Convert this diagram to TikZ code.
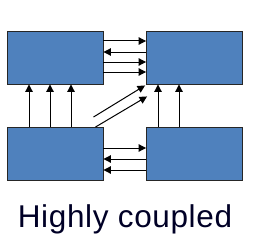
\documentclass[tikz,border=0pt]{standalone}
\usepackage{fontspec}
\setmainfont{Liberation Sans}[LetterSpace=2]
\usetikzlibrary{arrows.meta}
\definecolor{boxblue}{HTML}{4F81BD}
\tikzset{
  blk/.style={draw=black!85, line width=0.9pt, fill=boxblue, minimum width=96pt, minimum height=53pt, inner sep=0pt},
  arr/.style={line width=1pt, -{Triangle[length=7.5pt,width=7.5pt]}},
}
\begin{document}
\begin{tikzpicture}[x=1pt,y=-1pt]
\useasboundingbox (0,0) rectangle (259,246);
\node[blk] (tl) at (55,57.5) {};
\node[blk] (tr) at (194.5,57.5) {};
\node[blk] (bl) at (55,154) {};
\node[blk] (br) at (194.5,154) {};
% top horizontal
\draw[arr] ([yshift=16.5pt]tl.east) -- ([yshift=16.5pt]tr.west);
\draw[arr] ([yshift=5.5pt]tr.west) -- ([yshift=5.5pt]tl.east);
\draw[arr] ([yshift=-4.5pt]tl.east) -- ([yshift=-4.5pt]tr.west);
\draw[arr] ([yshift=-14.5pt]tl.east) -- ([yshift=-14.5pt]tr.west);
% bottom horizontal
\draw[arr] ([yshift=6pt]bl.east) -- ([yshift=6pt]br.west);
\draw[arr] ([yshift=-5pt]br.west) -- ([yshift=-5pt]bl.east);
\draw[arr] ([yshift=-16pt]br.west) -- ([yshift=-16pt]bl.east);
% vertical left
\draw[arr] ([xshift=-26pt]bl.north) -- ([xshift=-26pt]tl.south);
\draw[arr] ([xshift=-5pt]bl.north) -- ([xshift=-5pt]tl.south);
\draw[arr] ([xshift=16pt]bl.north) -- ([xshift=16pt]tl.south);
% vertical right
\draw[arr] ([xshift=-36.5pt]br.north) -- ([xshift=-36.5pt]tr.south);
\draw[arr] ([xshift=-15.5pt]br.north) -- ([xshift=-15.5pt]tr.south);
% diagonal
\coordinate (d1) at ([xshift=-10pt,yshift=10pt]bl.north east);
\draw[arr] (d1) -- ([xshift=-1pt,yshift=-1pt]tr.south west);
\draw[arr] ([xshift=-8pt]bl.north east) -- ([xshift=1pt,yshift=-12pt]tr.south west);
\node[font=\fontsize{31.5}{34}\selectfont, text=black!85!blue] (lbl) at (125,219) {Highly coupled};
\end{tikzpicture}
\end{document}
